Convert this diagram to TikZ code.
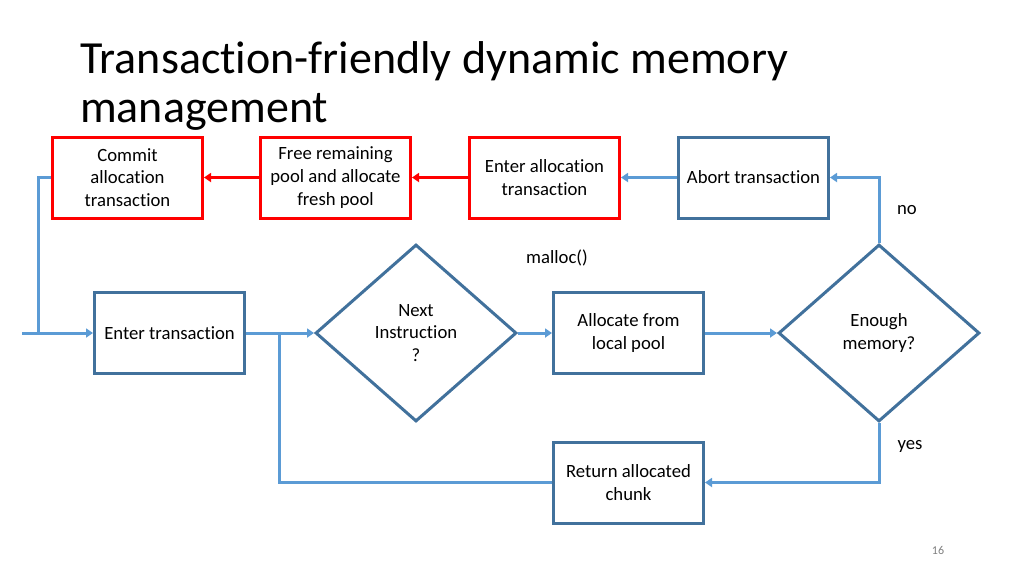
\documentclass[tikz,border=0pt]{standalone}
\usepackage{fontspec}
\setmainfont{Carlito}[Ligatures=NoCommon]
\usetikzlibrary{arrows.meta,shapes.geometric}
\definecolor{boxblue}{HTML}{41719C}
\definecolor{linkblue}{HTML}{5B9BD5}
\definecolor{boxred}{HTML}{FF0000}
\begin{document}
\begin{tikzpicture}[x=1pt,y=-1pt,
  txt/.style={font=\fontsize{18.7}{22.8}\selectfont, align=center},
  bluebox/.style={txt, draw=boxblue, line width=3pt, minimum width=150pt, minimum height=81pt, inner sep=0pt},
  redbox/.style={txt, draw=boxred, line width=3pt, minimum width=150pt, minimum height=81pt, inner sep=0pt},
  decide/.style={txt, diamond, draw=boxblue, line width=3pt, minimum width=201pt, minimum height=177pt, inner sep=0pt},
  conn/.style={draw=linkblue, line width=3pt, -{Triangle[length=7pt,width=9pt]}},
  plainconn/.style={draw=linkblue, line width=3pt},
  redconn/.style={draw=boxred, line width=3pt, -{Triangle[length=7pt,width=9pt]}},
  lbl/.style={txt, inner sep=0pt}
]
\useasboundingbox (0,0) rectangle (1024,576);
\fill[white] (0,0) rectangle (1024,576);

\node[anchor=base west, inner sep=0pt, font=\fontsize{46}{49}\selectfont, align=left] (title) at (80,122)
  {Transaction-friendly dynamic memory\\management};

\node[redbox] (commit) at (127.5,177.5) {Commit\\allocation\\transaction};
\node[redbox] (freepool) at (335.5,177.5) {Free remaining\\pool and allocate\\fresh pool};
\node[redbox] (enteralloc) at (544.5,177.5) {Enter allocation\\transaction};
\node[bluebox] (abort) at (753.5,177.5) {Abort transaction};

\node[bluebox] (enter) at (169.5,333) {Enter transaction};
\node[decide] (next) at (416,333) {Next\\Instruction\\?};
\node[bluebox] (alloc) at (628.5,333) {Allocate from\\local pool};
\node[decide] (enough) at (879,333) {Enough\\memory?};
\node[bluebox] (ret) at (628.5,482.5) {Return allocated\\chunk};

\node[lbl] (no) at (907,210) {no};
\node[lbl] (malloc) at (557,258) {malloc()};
\node[lbl] (yes) at (910,446) {yes};
\node[inner sep=0pt, font=\fontsize{12}{14}\selectfont, text=gray] (page) at (938,550) {16};

\coordinate (start) at (22,333);
\coordinate (j1) at (38,333);
\coordinate (j2) at (279,333);

\draw[conn] (enough.north) |- (abort.east);
\draw[conn] (abort.west) -- (enteralloc.east);
\draw[redconn] (enteralloc.west) -- (freepool.east);
\draw[redconn] (freepool.west) -- (commit.east);
\draw[plainconn] (commit.west) -| (j1);
\draw[conn] (start) -- (enter.west);
\draw[conn] (enter.east) -- (next.west);
\draw[conn] (next.east) -- (alloc.west);
\draw[conn] (alloc.east) -- (enough.west);
\draw[conn] (enough.south) |- (ret.east);
\draw[plainconn] (ret.west) -| (j2);
\end{tikzpicture}
\end{document}
